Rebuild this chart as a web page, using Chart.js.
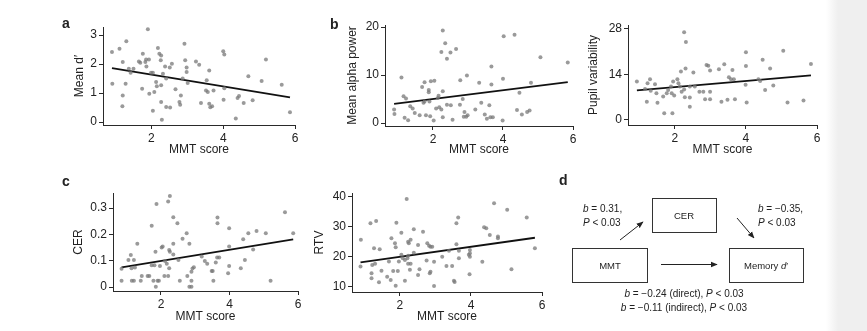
<!DOCTYPE html>
<html>
<head>
<meta charset="utf-8">
<script src="https://cdn.jsdelivr.net/npm/chart.js@4.4.1/dist/chart.umd.min.js"></script>
<style>
  body { margin: 0; width: 867px; height: 331px; overflow: hidden; position: relative; background: #fff; font-family: "Liberation Sans", Arial, sans-serif; }
  canvas { position: absolute; }
  #band { position: absolute; left: 826px; top: 0; width: 41px; height: 331px; background: linear-gradient(to right, #fff, #efefef 12px, #efefef); }
  svg { position: absolute; left: 0; top: 0; }
  svg text { font-family: "Liberation Sans", Arial, sans-serif; fill: #222; }
</style>
</head>
<body>
<div id="band"></div>
<canvas id="pa"></canvas>
<canvas id="pb"></canvas>
<canvas id="pp"></canvas>
<canvas id="pc"></canvas>
<canvas id="pr"></canvas>

<svg width="867" height="331">
  <defs>
    <marker id="head" viewBox="0 0 10 10" refX="9" refY="5" markerWidth="7" markerHeight="7" orient="auto">
      <path d="M0,1 L10,5 L0,9 z" fill="#222"/>
    </marker>
  </defs>
  <text x="62" y="28" font-size="14" font-weight="bold">a</text>
  <text x="330" y="29" font-size="14" font-weight="bold">b</text>
  <text x="62" y="186" font-size="14" font-weight="bold">c</text>
  <text x="559" y="185" font-size="14" font-weight="bold">d</text>

  <rect x="652.5" y="198.5" width="64" height="34" fill="none" stroke="#333" stroke-width="1"/>
  <rect x="572.5" y="248.5" width="75" height="34" fill="none" stroke="#333" stroke-width="1"/>
  <rect x="729.5" y="248.5" width="74" height="34" fill="none" stroke="#333" stroke-width="1"/>
  <text x="684" y="219" font-size="9.5" text-anchor="middle">CER</text>
  <text x="610" y="269" font-size="9.5" text-anchor="middle">MMT</text>
  <text x="766" y="269" font-size="9.5" text-anchor="middle">Memory <tspan font-style="italic">d</tspan>′</text>

  <line x1="661" y1="264.5" x2="717" y2="264.5" stroke="#222" stroke-width="1" marker-end="url(#head)"/>
  <line x1="620" y1="240" x2="643" y2="222" stroke="#222" stroke-width="1" marker-end="url(#head)"/>
  <line x1="737" y1="218" x2="754" y2="238" stroke="#222" stroke-width="1" marker-end="url(#head)"/>

  <text x="583" y="212" font-size="10"><tspan font-style="italic">b</tspan> = 0.31,</text>
  <text x="583" y="226" font-size="10"><tspan font-style="italic">P</tspan> &lt; 0.03</text>
  <text x="758" y="212" font-size="10"><tspan font-style="italic">b</tspan> = −0.35,</text>
  <text x="758" y="226" font-size="10"><tspan font-style="italic">P</tspan> &lt; 0.03</text>
  <text x="684" y="297" font-size="10" text-anchor="middle"><tspan font-style="italic">b</tspan> = −0.24 (direct), <tspan font-style="italic">P</tspan> &lt; 0.03</text>
  <text x="684" y="311" font-size="10" text-anchor="middle"><tspan font-style="italic">b</tspan> = −0.11 (indirect), <tspan font-style="italic">P</tspan> &lt; 0.03</text>
</svg>

<script>
// panel a: memory d' vs MMT score
const mmtA = [0.90,1.30,1.11,1.90,1.20,0.91,1.28,1.20,1.19,1.50,1.42,1.76,1.65,1.69,1.85,1.93,1.83,1.86,1.99,2.04,
  2.18,2.22,2.27,2.26,2.38,2.51,2.57,2.92,2.94,2.98,2.98,3.24,3.33,3.61,3.54,3.52,3.57,3.73,3.38,3.61,
  3.69,3.64,4.00,4.03,4.03,4.01,4.70,5.19,5.07,5.63,5.86,4.35,4.44,4.40,4.57,4.82,1.74,1.94,2.08,2.13,
  2.15,2.27,2.41,2.67,2.82,2.78,2.80,2.27,2.41,2.52,2.04,2.29,3.01,2.87,1.37,2.32];
const dprime = [2.42,2.79,2.53,3.20,2.07,1.32,1.32,0.92,0.55,1.84,1.70,2.36,2.09,2.05,2.16,2.16,2.07,1.92,1.70,1.70,
  2.56,2.36,2.30,2.13,1.92,1.88,2.01,2.70,2.13,1.88,1.73,2.09,1.98,1.78,1.44,1.09,1.04,1.09,0.66,0.63,
  0.55,0.51,2.44,2.33,1.17,0.77,1.58,2.16,1.42,1.29,0.34,0.12,0.90,0.83,0.66,0.75,1.15,0.98,1.04,1.38,
  1.24,1.27,1.50,1.13,0.92,0.69,0.60,0.69,0.52,0.50,0.39,0.08,1.35,1.50,1.84,1.67];
const fitAx = [0.90, 5.86];
const fitAy = [1.86, 0.85];

// panel b: mean alpha power
const mmtB = [2.28,2.35,2.24,2.50,2.66,2.40,4.02,4.33,5.07,5.85,1.10,3.67,2.97,2.78,3.32,3.67,4.00,4.80,4.47,1.76,
  1.69,1.88,1.88,1.94,2.04,2.16,2.28,2.14,1.16,1.23,1.35,1.42,0.89,0.90,1.19,1.29,1.48,1.62,1.76,1.90,
  1.80,1.92,2.02,2.09,2.18,2.24,2.28,2.40,2.51,2.56,2.77,2.85,2.90,2.88,2.95,2.99,3.21,3.38,3.48,3.54,
  3.61,3.64,3.71,3.99,4.40,4.54,4.69,4.76,1.73];
const alpha = [19.3,16.6,14.8,14.7,15.4,13.4,18.1,18.4,13.7,12.6,9.5,11.8,9.9,8.9,8.4,8.0,9.2,8.4,6.3,8.5,
  7.5,6.9,6.4,8.7,8.8,5.7,6.6,5.2,5.6,5.1,3.5,3.0,2.8,1.9,1.1,0.6,2.1,1.6,4.5,4.5,
  1.6,1.4,0.5,3.0,3.3,2.8,1.2,3.8,3.7,0.7,3.8,5.0,2.3,1.3,1.3,1.6,2.8,4.2,1.8,0.9,
  3.7,1.2,1.2,0.5,2.7,1.8,2.3,2.6,4.2];
const fitBx = [0.89, 5.85];
const fitBy = [4.0, 8.5];

// pupil variability
const mmtP = [2.26,2.31,4.00,5.05,4.47,5.83,4.00,4.68,3.39,3.24,2.89,2.94,2.99,3.62,2.30,2.17,2.52,0.93,1.30,1.23,
  1.44,1.16,1.32,1.48,1.21,1.51,1.67,1.77,1.81,1.89,1.95,2.07,2.10,1.91,1.98,2.14,2.19,2.26,2.28,2.42,
  2.42,2.42,2.56,2.69,2.80,2.85,2.99,2.99,3.31,3.48,3.69,3.52,3.58,3.66,3.99,4.02,4.35,4.40,4.54,4.77,
  5.17,5.62,1.70,1.93];
const pupil = [27.0,24.0,20.8,21.3,18.5,17.2,16.6,15.8,17.1,15.6,16.9,16.7,15.2,15.4,15.8,14.9,14.6,11.8,12.5,11.3,
  11.0,9.5,9.0,8.2,5.6,5.3,7.2,8.2,9.2,10.3,11.8,12.5,11.3,8.2,7.5,10.3,8.7,9.4,7.0,6.9,
  4.1,10.3,10.3,8.7,8.7,6.4,6.4,8.7,5.6,6.2,6.4,13.1,12.5,12.5,10.8,5.4,12.5,12.0,9.2,10.6,
  5.4,6.0,2.05,2.05];
const fitPx = [0.93, 5.83];
const fitPy = [9.1, 13.7];

// panel c: CER
const mmtC = [2.26,2.21,1.87,2.36,2.48,1.73,3.65,3.65,3.99,5.62,5.86,4.79,4.55,5.06,4.40,3.99,4.69,2.75,2.83,2.63,
  2.36,2.02,2.05,2.24,2.26,1.84,1.31,1.12,1.05,1.21,1.14,1.24,0.85,0.85,1.15,1.21,1.41,1.44,1.61,1.66,
  1.78,1.90,1.94,1.85,1.73,1.81,1.97,2.12,2.17,2.24,2.21,2.10,2.36,2.51,2.55,2.77,2.89,2.92,2.96,2.83,
  2.89,2.89,3.19,3.28,3.35,3.48,3.51,3.53,3.60,3.64,3.70,3.99,3.96,4.33,4.45,5.20];
const cer = [0.346,0.325,0.315,0.265,0.242,0.233,0.264,0.242,0.223,0.284,0.204,0.213,0.204,0.204,0.181,0.154,0.143,0.204,0.164,0.183,
  0.164,0.150,0.154,0.141,0.134,0.134,0.164,0.122,0.103,0.103,0.071,0.074,0.069,0.024,0.024,0.024,0.024,0.042,0.042,0.042,
  0.024,0.024,0.024,0.001,0.083,0.083,0.080,0.099,0.088,0.071,0.042,0.042,0.124,0.103,0.024,0.042,0.058,0.070,0.075,0.001,
  0.001,0.024,0.116,0.099,0.088,0.061,0.061,0.024,0.093,0.112,0.112,0.080,0.052,0.071,0.103,0.024];
const fitCx = [0.85, 5.86];
const fitCy = [0.075, 0.181];

// RTV
const mmtR = [2.19,4.65,5.02,5.57,5.80,5.14,3.64,3.59,1.17,1.33,1.90,2.04,2.39,2.65,4.37,4.43,4.53,4.76,4.76,0.90,
  1.76,1.86,1.88,2.25,2.30,2.23,2.51,2.77,2.82,2.86,2.91,3.59,3.66,3.97,3.97,3.97,3.94,1.27,1.43,1.30,
  1.22,0.89,1.20,1.20,1.41,1.48,1.64,1.69,1.74,1.81,1.88,1.94,1.97,2.04,2.08,2.14,2.21,2.23,2.14,2.23,
  2.28,2.30,2.39,2.51,2.55,2.75,2.84,2.86,2.96,2.96,3.19,3.31,3.47,3.52,3.54,3.66,3.96,4.32,3.38];
const rtv = [39.3,37.9,35.7,33.1,22.9,15.9,33.1,31.2,31.2,32.0,31.4,28.1,29.2,28.4,29.9,29.6,27.3,26.8,26.2,25.7,
  26.2,24.6,23.2,24.6,25.7,25.1,24.0,24.6,23.7,23.4,23.4,24.2,22.1,22.3,21.2,20.1,20.7,22.9,22.6,17.7,
  17.3,16.8,14.6,12.9,11.6,15.4,13.4,18.5,12.3,15.3,10.4,15.3,18.5,20.7,19.6,19.0,19.6,20.4,12.1,17.7,
  15.7,17.7,21.4,14.0,15.9,18.8,14.6,15.1,18.4,10.3,20.1,17.0,17.0,12.1,11.7,19.6,14.2,18.4,22.1];
const fitRx = [0.89, 5.80];
const fitRy = [18.2, 26.4];

const xTicks = [2, 4, 6];
const ticksA = [0, 1, 2, 3];
const ticksB = [0, 10, 20];
const ticksP = [0, 14, 28];
const ticksC = [0, 0.1, 0.2, 0.3];
const ticksR = [10, 20, 30, 40];

Chart.defaults.font.family = '"Liberation Sans", Arial, sans-serif';

const ink = '#2a2a2a';

function panel(id, box, xs, ys, fx, fy, xr, yr, yTicks, yTitle) {
  const cv = document.getElementById(id);
  const left = box.titleX - 7, bottom = box.titleY + 7;
  const W = box.l - left, H = bottom - box.b;
  cv.style.left = left + 'px';
  cv.style.top = (box.t - 10) + 'px';
  cv.width = W + (box.r - box.l) + 12;
  cv.height = bottom - box.t + 10;

  const axis = {
    grid: { drawOnChartArea: false, drawTicks: true, tickLength: 4, color: ink },
    border: { display: true, color: ink, width: 1 },
    ticks: { color: '#222', font: { size: 12 }, padding: 2, callback: v => String(v) }
  };

  new Chart(cv, {
    type: 'scatter',
    data: {
      datasets: [
        {
          data: xs.map((x, i) => ({ x: x, y: ys[i] })),
          pointRadius: 2,
          pointBackgroundColor: 'rgba(120,120,120,0.75)',
          pointBorderWidth: 0
        },
        {
          type: 'line',
          data: fx.map((x, i) => ({ x: x, y: fy[i] })),
          borderColor: '#111',
          borderWidth: 1.8,
          pointRadius: 0,
          fill: false
        }
      ]
    },
    options: {
      responsive: false,
      animation: false,
      events: [],
      layout: { padding: { top: 10, right: 12, left: 0, bottom: 0 } },
      plugins: { legend: { display: false }, tooltip: { enabled: false } },
      scales: {
        x: Object.assign({}, axis, {
          type: 'linear', min: xr[0], max: xr[1],
          afterBuildTicks: s => { s.ticks = xTicks.map(v => ({ value: v })); },
          afterFit: s => { s.height = H; },
          title: { display: true, text: 'MMT score', color: '#222', font: { size: 12 }, padding: 0 }
        }),
        y: Object.assign({}, axis, {
          type: 'linear', min: yr[0], max: yr[1],
          afterBuildTicks: s => { s.ticks = yTicks.map(v => ({ value: v })); },
          afterFit: s => { s.width = W; },
          title: { display: true, text: yTitle, color: '#222', font: { size: 12, family: '"Liberation Sans Narrow", "Liberation Sans", Arial, sans-serif' }, padding: 0 }
        })
      }
    }
  });
}

panel('pa', { l: 103, r: 295, t: 27, b: 125, titleX: 79, titleY: 150 }, mmtA, dprime, fitAx, fitAy, [0.65, 6], [-0.1, 3.28], ticksA, 'Mean d′');
panel('pb', { l: 385, r: 573, t: 25, b: 126, titleX: 352, titleY: 150 }, mmtB, alpha, fitBx, fitBy, [0.63, 6], [-0.62, 20.42], ticksB, 'Mean alpha power');
panel('pp', { l: 628, r: 817, t: 25, b: 125, titleX: 593, titleY: 150 }, mmtP, pupil, fitPx, fitPy, [0.68, 6], [-1.54, 29.2], ticksP, 'Pupil variability');
panel('pc', { l: 113, r: 298, t: 193, b: 291, titleX: 78, titleY: 317 }, mmtC, cer, fitCx, fitCy, [0.6, 6], [-0.015, 0.357], ticksC, 'CER');
panel('pr', { l: 352, r: 542, t: 193, b: 292, titleX: 319, titleY: 317 }, mmtR, rtv, fitRx, fitRy, [0.65, 6], [8.33, 41.3], ticksR, 'RTV');
</script>
</body>
</html>
